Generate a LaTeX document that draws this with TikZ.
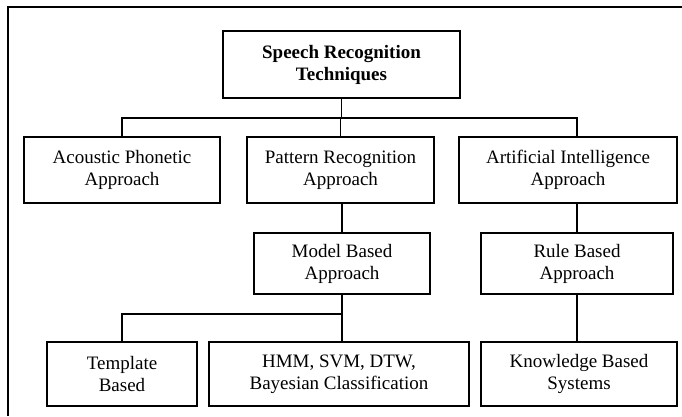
\documentclass[tikz,border=0pt]{standalone}
\usepackage{fontspec}
\setmainfont{Liberation Serif}
\usepackage{tikz}
\usetikzlibrary{calc}

\begin{document}
\begin{tikzpicture}[x=0.025cm, y=-0.025cm,
  font=\fontsize{13.5}{15.6}\selectfont,
  box/.style={draw, line width=1.3pt, align=center, inner sep=2pt},
  link/.style={line width=1.1pt}]
\useasboundingbox (0,0) rectangle (682,416);
\draw[line width=2pt] (8,416) -- (8,7) -- (682,7);
% top
\node[box, minimum width=5.92cm, minimum height=1.67cm, font=\fontsize{13.5}{15.6}\selectfont\bfseries] (tech) at (341.5,64.5) {Speech Recognition\\Techniques};
% approaches
\node[box, minimum width=4.9cm, minimum height=1.65cm] (acou) at (122,170) {Acoustic Phonetic\\Approach};
\node[box, minimum width=4.67cm, minimum height=1.65cm] (patt) at (340.5,170) {Pattern Recognition\\Approach};
\node[box, minimum width=5.45cm, minimum height=1.65cm] (ai) at (568,170) {Artificial Intelligence\\Approach};
\node[box, minimum width=4.4cm, minimum height=1.52cm] (model) at (342,263.5) {Model Based\\Approach};
\node[box, minimum width=4.8cm, minimum height=1.52cm] (rule) at (577,263.5) {Rule Based\\Approach};
% methods
\node[box, minimum width=3.75cm, minimum height=1.6cm] (tmpl) at (122,374) {Template\\Based};
\node[box, minimum width=6.5cm, minimum height=1.6cm] (hmm) at (339,374) {HMM, SVM, DTW,\\Bayesian Classification};
\node[box, minimum width=4.9cm, minimum height=1.6cm] (kb) at (579,374) {Knowledge Based\\Systems};
\draw[link] (tech.south) -- ++(0,19) coordinate (j1);
\draw[link] (j1) -| (acou.north);
\draw[link] (j1) -| (patt.north);
\draw[link] (j1) -| (rule.north |- ai.north);
\draw[link] (model.north |- patt.south) -- (model.north);
\draw[link] (rule.north |- ai.south) -- (rule.north);
\draw[link] (model.south) -- ++(0,19) coordinate (j2);
\draw[link] (j2) -| (tmpl.north);
\draw[link] (j2) -- (j2 |- hmm.north);
\draw[link] (rule.south) -- (rule.south |- kb.north);
\end{tikzpicture}
\end{document}
